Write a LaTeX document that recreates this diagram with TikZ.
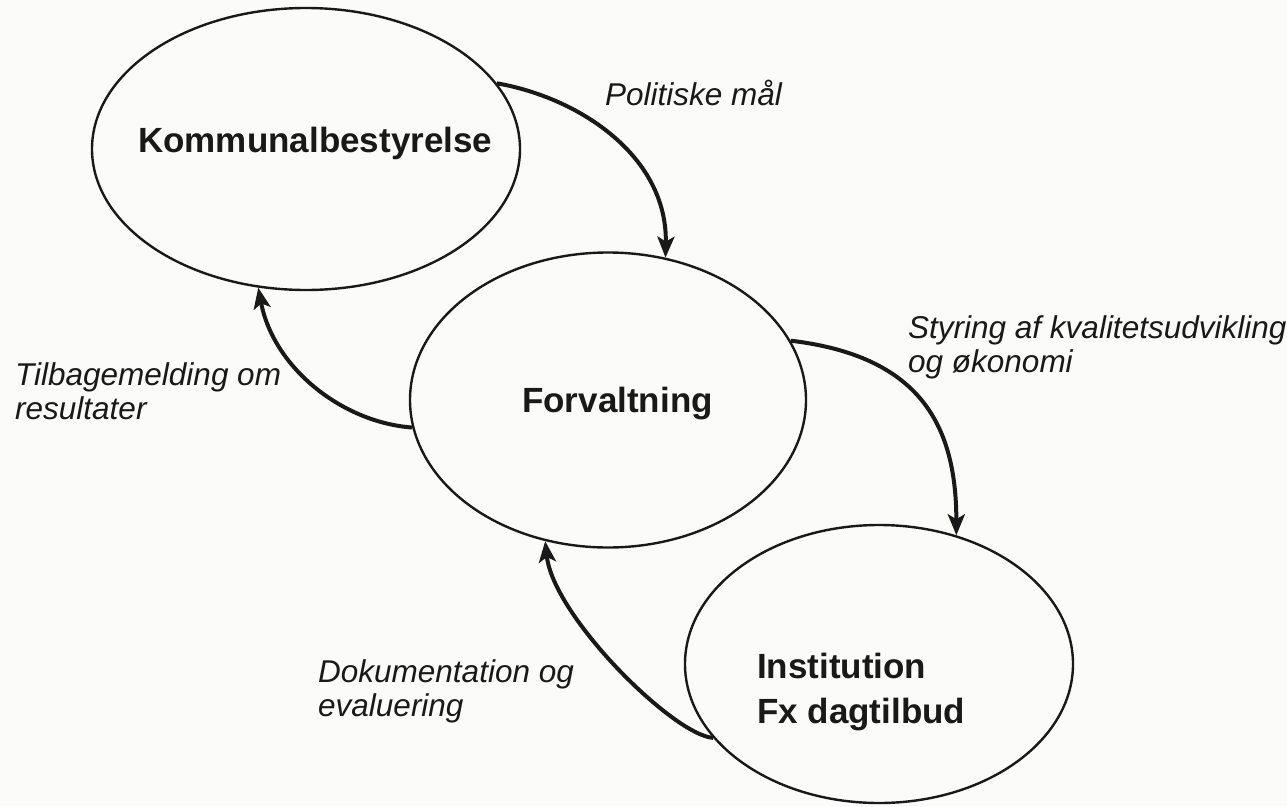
\documentclass[tikz,border=0pt]{standalone}
\usepackage{fontspec}
\setmainfont{Liberation Sans}
\usetikzlibrary{shapes.geometric,arrows.meta}
\definecolor{paper}{RGB}{251,251,249}
\definecolor{ink}{RGB}{25,25,25}
\begin{document}
\begin{tikzpicture}[x=1pt,y=-1pt,
  oval/.style={ellipse,draw=ink,line width=2.4pt,inner sep=0pt},
  title/.style={font=\fontsize{35}{45}\selectfont\bfseries,text=ink,align=left,inner sep=0pt},
  lab/.style={font=\fontsize{31.5}{34}\selectfont\itshape,text=ink,align=left,inner sep=0pt},
  flow/.style={draw=ink,line width=4pt,-{Stealth[length=21pt,width=17pt,inset=5pt]}}]
\fill[paper] (0,0) rectangle (1287,806);
\useasboundingbox (0,0) rectangle (1287,806);
% ellipses
\node[oval,minimum width=428pt,minimum height=282pt] (k) at (306,149) {};
\node[oval,minimum width=396pt,minimum height=295pt] (f) at (608,400) {};
\node[oval,minimum width=388pt,minimum height=278pt] (i) at (879,664) {};
% titles (multi-line nodes are anchored at the baseline of their last line)
\node[title,anchor=base west] (kt) at (138,152) {Kommunalbestyrelse};
\node[title,anchor=base west] (ft) at (522,412) {Forvaltning};
\node[title,anchor=base west] (it) at (757,723) {Institution\\Fx dagtilbud};
% connector labels
\node[lab,anchor=base west] (l1) at (605,105) {Politiske mål};
\node[lab,anchor=base west] (l2) at (908,372) {Styring af kvalitetsudvikling\\og økonomi};
\node[lab,anchor=base west] (l3) at (318,716) {Dokumentation og\\evaluering};
\node[lab,anchor=base west] (l4) at (15,419) {Tilbagemelding om\\resultater};
% connectors
\draw[flow] (k.19) .. controls +(85,15) and +(2,-100) .. (f.68);
\draw[flow] (f.18) .. controls +(125,15) and +(0,-115) .. (i.59);
\draw[flow] (i.204) .. controls +(-40,-3) and +(8,75) .. (f.246);
\draw[flow] (f.188) .. controls +(-70,-5) and +(15,80) .. (k.251);
\end{tikzpicture}
\end{document}
